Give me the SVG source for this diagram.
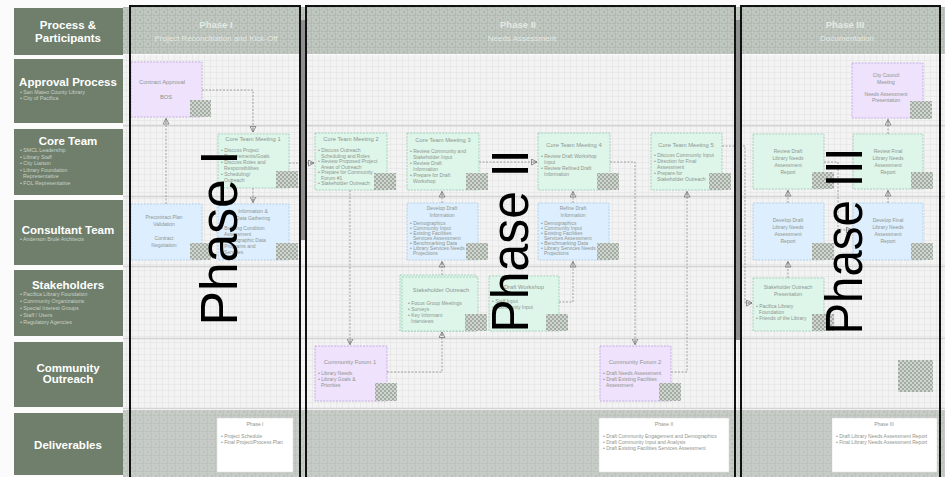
<svg xmlns="http://www.w3.org/2000/svg" width="945" height="477" viewBox="0 0 945 477">
<style>
.lbl{fill:#6f7f6c}
.lt{font:bold 11.5px "Liberation Sans",sans-serif;fill:#fff;text-anchor:middle}
.lb{font:5.3px "Liberation Sans",sans-serif;fill:#c9d1c7}
.ph{font:bold 9.5px "Liberation Sans",sans-serif;fill:#e4e9e4;text-anchor:middle}
.phs{font:8px "Liberation Sans",sans-serif;fill:#e4e9e4;text-anchor:middle}
.g{fill:#def5ea;stroke:#96c8b0;stroke-width:0.8;stroke-dasharray:2 1.2}
.b{fill:#ddefff;stroke:#a2c8e6;stroke-width:0.8;stroke-dasharray:2 1.2}
.p{fill:#efe2fd;stroke:#bb9fe0;stroke-width:0.8;stroke-dasharray:2 1.2}
.w{fill:#ffffff;stroke:#d8d8d8;stroke-width:0.5}
.nt{font:5px "Liberation Sans",sans-serif;fill:#8d958f}
.nc{font:5px "Liberation Sans",sans-serif;fill:#8d958f;text-anchor:middle}
.ntt{font:5.8px "Liberation Sans",sans-serif;fill:#8d958f;text-anchor:middle}
.ico{fill:url(#chk)}
.conn{fill:none;stroke:#8a8a8a;stroke-width:0.8;stroke-dasharray:2 1.5;marker-end:url(#arr)}
.big{font:51px "Liberation Sans",sans-serif;fill:#000;text-anchor:middle}
.frame{fill:none;stroke:#111;stroke-width:2}
</style>
<defs>
<pattern id="grid" width="6" height="6" patternUnits="userSpaceOnUse"><rect width="6" height="6" fill="#f3f3f3"/><path d="M0 0.5H6M0.5 0V6" stroke="#e3e3e3" stroke-width="0.6"/></pattern>
<pattern id="hdr" width="8" height="8" patternUnits="userSpaceOnUse"><rect width="8" height="8" fill="#b2bab2"/><circle cx="4" cy="4" r="2.4" fill="none" stroke="#d2d8d2" stroke-width="0.8"/><path d="M0 0.5H8M0.5 0V8" stroke="#c8cec8" stroke-width="0.6"/></pattern>
<pattern id="hdr2" width="8" height="8" patternUnits="userSpaceOnUse"><rect width="8" height="8" fill="#bcc2bc"/><circle cx="4" cy="4" r="2.4" fill="none" stroke="#d6dad6" stroke-width="0.8"/><path d="M0 0.5H8M0.5 0V8" stroke="#ced2ce" stroke-width="0.6"/></pattern>
<pattern id="chk" width="4" height="4" patternUnits="userSpaceOnUse"><rect width="4" height="4" fill="#a3aca3"/><rect width="2" height="2" fill="#d0d5d0"/><rect x="2" y="2" width="2" height="2" fill="#d0d5d0"/></pattern>
<marker id="arr" markerWidth="7" markerHeight="7" refX="6" refY="3.5" orient="auto" markerUnits="userSpaceOnUse"><path d="M0.5,0.5 L6,3.5 L0.5,6.5 Z M2,3.5 H6" fill="none" stroke="#777" stroke-width="0.8"/></marker>
</defs>

<rect width="945" height="477" fill="#fbfbfb"/>

<g id="lanes">
<rect x="123" y="7" width="822" height="47" fill="url(#hdr)"/>
<rect x="123" y="55" width="822" height="70" fill="url(#grid)"/>
<rect x="123" y="126" width="822" height="70" fill="url(#grid)"/>
<rect x="123" y="197" width="822" height="69" fill="url(#grid)"/>
<rect x="123" y="267" width="822" height="71" fill="url(#grid)"/>
<rect x="123" y="339" width="822" height="69" fill="url(#grid)"/>
<rect x="123" y="410" width="822" height="67" fill="url(#hdr2)"/>
<path d="M123 125.5H945M123 196.5H945M123 266.5H945M123 338.5H945M123 408.5H945" stroke="#d3d3d3" stroke-width="1.5"/>
</g>

<g id="labels">
<rect class="lbl" x="14" y="8" width="109" height="47"/>
<text class="lt" x="68" y="29">Process &amp;</text>
<text class="lt" x="68" y="42">Participants</text>
<rect class="lbl" x="14" y="59" width="109" height="64"/>
<text class="lt" x="68" y="86">Approval Process</text>
<text class="lb" x="20" y="94">• San Mateo County Library</text>
<text class="lb" x="20" y="100">• City of Pacifica</text>
<rect class="lbl" x="14" y="129" width="109" height="66"/>
<text class="lt" x="68" y="145">Core Team</text>
<text class="lb" x="20" y="152">• SMCL Leadership</text>
<text class="lb" x="20" y="158.5">• Library Staff</text>
<text class="lb" x="20" y="165">• City Liaison</text>
<text class="lb" x="20" y="171.5">• Library Foundation</text>
<text class="lb" x="23" y="178">Representative</text>
<text class="lb" x="20" y="184.5">• FOL Representative</text>
<rect class="lbl" x="14" y="200" width="109" height="65"/>
<text class="lt" x="68" y="234">Consultant Team</text>
<text class="lb" x="20" y="241">• Anderson Brulé Architects</text>
<rect class="lbl" x="14" y="270" width="109" height="66"/>
<text class="lt" x="68" y="289">Stakeholders</text>
<text class="lb" x="20" y="296">• Pacifica Library Foundation</text>
<text class="lb" x="20" y="303">• Community Organizations</text>
<text class="lb" x="20" y="310">• Special Interest Groups</text>
<text class="lb" x="20" y="317">• Staff / Users</text>
<text class="lb" x="20" y="324">• Regulatory Agencies</text>
<rect class="lbl" x="14" y="342" width="109" height="65"/>
<text class="lt" x="68" y="372">Community</text>
<text class="lt" x="68" y="383">Outreach</text>
<rect class="lbl" x="14" y="413" width="109" height="62"/>
<text class="lt" x="68" y="449">Deliverables</text>
</g>

<g id="phase-headers">
<text class="ph" x="216" y="28">Phase I</text>
<text class="phs" x="216" y="41">Project Reconciliation and Kick-Off</text>
<text class="ph" x="518" y="28">Phase II</text>
<text class="phs" x="522" y="41">Needs Assessment</text>
<text class="ph" x="845" y="28">Phase III</text>
<text class="phs" x="847" y="41">Documentation</text>
</g>

<g id="connectors">
<path class="conn" d="M202 90H253V132"/>
<path class="conn" d="M166 204V118.5"/>
<path class="conn" d="M253 188V202.5"/>
<path class="conn" d="M289 163H314"/>
<path class="conn" d="M350 190V344.5"/>
<path class="conn" d="M387 372H442V332"/>
<path class="conn" d="M442 275V261.5"/>
<path class="conn" d="M442 203V191.5"/>
<path class="conn" d="M479 162H537"/>
<path class="conn" d="M559 302H573V261.5"/>
<path class="conn" d="M573 203V191.5"/>
<path class="conn" d="M610 162H635V344.5"/>
<path class="conn" d="M671 372H687V191.5"/>
<path class="conn" d="M722 146H745V303H752"/>
<path class="conn" d="M788 278V261.5"/>
<path class="conn" d="M788 203V190.5"/>
<path class="conn" d="M824 162H838V230H852"/>
<path class="conn" d="M888 203V190.5"/>
<path class="conn" d="M888 134V119.5"/>
</g>

<g id="n-contract-approval">
<rect class="p" x="131" y="62" width="71" height="55"/>
<text class="ntt" x="162" y="84">Contract Approval</text>
<text class="ntt" x="166" y="99">BOS</text>
<rect class="ico" x="190" y="100" width="21" height="17"/>
</g>
<g id="n-precontract">
<rect class="b" x="131" y="204" width="71" height="56"/>
<text class="nc" x="164" y="219">Precontract Plan</text>
<text class="nc" x="164" y="226">Validation</text>
<text class="nc" x="164" y="240">Contract</text>
<text class="nc" x="164" y="247">Negotiation</text>
<rect class="ico" x="190" y="243" width="21" height="17"/>
</g>
<g id="n-ctm1">
<rect class="g" x="218" y="134" width="71" height="54"/>
<text class="ntt" x="253" y="141">Core Team Meeting 1</text>
<text class="nt" x="221" y="152">• Discuss Project</text>
<text class="nt" x="224" y="158">Requirements/Goals</text>
<text class="nt" x="221" y="164">• Discuss Roles and</text>
<text class="nt" x="224" y="170">Responsibilities</text>
<text class="nt" x="221" y="176">• Scheduling/</text>
<text class="nt" x="224" y="182">Outreach</text>
<rect class="ico" x="276" y="171" width="22" height="17"/>
</g>
<g id="n-info-gathering">
<rect class="b" x="218" y="204" width="71" height="56"/>
<text class="nc" x="253" y="213">Information &amp;</text>
<text class="nc" x="253" y="220">Data Gathering</text>
<text class="nt" x="221" y="230">• Building Condition</text>
<text class="nt" x="224" y="236">Assessment</text>
<text class="nt" x="221" y="242">• Demographic Data</text>
<text class="nt" x="221" y="248">• Programs and</text>
<text class="nt" x="224" y="254">Services</text>
<rect class="ico" x="276" y="243" width="22" height="17"/>
</g>

<g id="n-ctm2">
<rect class="g" x="315" y="133" width="72" height="57"/>
<text class="ntt" x="351" y="141">Core Team Meeting 2</text>
<text class="nt" x="318" y="152">• Discuss Outreach</text>
<text class="nt" x="321" y="157.5">Scheduling and Roles</text>
<text class="nt" x="318" y="163">• Review Proposed Project</text>
<text class="nt" x="321" y="168.5">Areas of Outreach</text>
<text class="nt" x="318" y="174">• Prepare for Community</text>
<text class="nt" x="321" y="179.5">Forum #1</text>
<text class="nt" x="318" y="185">• Stakeholder Outreach</text>
<rect class="ico" x="374" y="173" width="22" height="17"/>
</g>
<g id="n-ctm3">
<rect class="g" x="407" y="133" width="72" height="57"/>
<text class="ntt" x="443" y="142">Core Team Meeting 3</text>
<text class="nt" x="410" y="153">• Review Community and</text>
<text class="nt" x="413" y="159">Stakeholder Input</text>
<text class="nt" x="410" y="165">• Review Draft</text>
<text class="nt" x="413" y="171">Information</text>
<text class="nt" x="410" y="177">• Prepare for Draft</text>
<text class="nt" x="413" y="183">Workshop</text>
<rect class="ico" x="466" y="173" width="22" height="17"/>
</g>
<g id="n-ctm4">
<rect class="g" x="538" y="133" width="72" height="57"/>
<text class="ntt" x="574" y="147">Core Team Meeting 4</text>
<text class="nt" x="541" y="158">• Review Draft Workshop</text>
<text class="nt" x="544" y="164">Input</text>
<text class="nt" x="541" y="170">• Review Refined Draft</text>
<text class="nt" x="544" y="176">Information</text>
<rect class="ico" x="597" y="173" width="22" height="17"/>
</g>
<g id="n-ctm5">
<rect class="g" x="651" y="133" width="71" height="57"/>
<text class="ntt" x="686" y="147">Core Team Meeting 5</text>
<text class="nt" x="654" y="157">• Discuss Community Input</text>
<text class="nt" x="654" y="163">• Direction for Final</text>
<text class="nt" x="657" y="169">Assessment</text>
<text class="nt" x="654" y="175">• Prepare for</text>
<text class="nt" x="657" y="181">Stakeholder Outreach</text>
<rect class="ico" x="709" y="173" width="22" height="17"/>
</g>
<g id="n-develop-draft-info">
<rect class="b" x="407" y="203" width="71" height="57"/>
<text class="nc" x="442" y="210">Develop Draft</text>
<text class="nc" x="442" y="217">Information</text>
<text class="nt" x="410" y="225">• Demographics</text>
<text class="nt" x="410" y="230">• Community Input</text>
<text class="nt" x="410" y="235">• Existing Facilities</text>
<text class="nt" x="413" y="240">Services Assessment</text>
<text class="nt" x="410" y="245">• Benchmarking Data</text>
<text class="nt" x="410" y="250">• Library Services Needs</text>
<text class="nt" x="413" y="255">Projections</text>
<rect class="ico" x="466" y="243" width="22" height="17"/>
</g>
<g id="n-refine-draft-info">
<rect class="b" x="538" y="203" width="71" height="57"/>
<text class="nc" x="573" y="210">Refine Draft</text>
<text class="nc" x="573" y="217">Information</text>
<text class="nt" x="541" y="225">• Demographics</text>
<text class="nt" x="541" y="230">• Community Input</text>
<text class="nt" x="541" y="235">• Existing Facilities</text>
<text class="nt" x="544" y="240">Services Assessment</text>
<text class="nt" x="541" y="245">• Benchmarking Data</text>
<text class="nt" x="541" y="250">• Library Services Needs</text>
<text class="nt" x="544" y="255">Projections</text>
<rect class="ico" x="597" y="243" width="22" height="17"/>
</g>
<g id="n-stakeholder-outreach">
<rect class="g" x="400" y="275" width="76" height="56"/>
<rect class="g" x="402" y="277" width="76" height="54"/>
<text class="ntt" x="441" y="292">Stakeholder Outreach</text>
<text class="nt" x="408" y="305">• Focus Group Meetings</text>
<text class="nt" x="408" y="311">• Surveys</text>
<text class="nt" x="408" y="317">• Key Informant</text>
<text class="nt" x="411" y="323">Interviews</text>
<rect class="ico" x="465" y="314" width="22" height="17"/>
</g>
<g id="n-draft-workshop">
<rect class="g" x="489" y="276" width="70" height="55"/>
<text class="ntt" x="524" y="289">Draft Workshop</text>
<text class="nt" x="492" y="303">• Staff Input</text>
<text class="nt" x="492" y="309">• Community Input</text>
<rect class="ico" x="546" y="314" width="22" height="17"/>
</g>
<g id="n-forum1">
<rect class="p" x="315" y="346" width="72" height="55"/>
<text class="ntt" x="350" y="364">Community Forum 1</text>
<text class="nt" x="318" y="375">• Library Needs</text>
<text class="nt" x="318" y="381">• Library Goals &amp;</text>
<text class="nt" x="321" y="387">Priorities</text>
<rect class="ico" x="375" y="383" width="22" height="18"/>
</g>
<g id="n-forum2">
<rect class="p" x="600" y="346" width="71" height="55"/>
<text class="ntt" x="635" y="364">Community Forum 2</text>
<text class="nt" x="603" y="375">• Draft Needs Assessment</text>
<text class="nt" x="603" y="381">• Draft Existing Facilities</text>
<text class="nt" x="606" y="387">Assessment</text>
<rect class="ico" x="659" y="383" width="22" height="18"/>
</g>

<g id="n-city-council">
<rect class="p" x="852" y="63" width="71" height="55"/>
<text class="nc" x="886" y="77">City Council</text>
<text class="nc" x="886" y="84">Meeting</text>
<text class="nc" x="886" y="96">Needs Assessment</text>
<text class="nc" x="886" y="102">Presentation</text>
<rect class="ico" x="910" y="101" width="22" height="18"/>
</g>
<g id="n-review-draft-report">
<rect class="g" x="753" y="134" width="71" height="55"/>
<text class="nc" x="788" y="153">Review Draft</text>
<text class="nc" x="788" y="160">Library Needs</text>
<text class="nc" x="788" y="167">Assessment</text>
<text class="nc" x="788" y="174">Report</text>
<rect class="ico" x="812" y="172" width="22" height="17"/>
</g>
<g id="n-review-final-report">
<rect class="g" x="853" y="134" width="70" height="55"/>
<text class="nc" x="888" y="153">Review Final</text>
<text class="nc" x="888" y="160">Library Needs</text>
<text class="nc" x="888" y="167">Assessment</text>
<text class="nc" x="888" y="174">Report</text>
<rect class="ico" x="911" y="172" width="22" height="17"/>
</g>
<g id="n-develop-draft-report">
<rect class="b" x="753" y="203" width="71" height="57"/>
<text class="nc" x="788" y="222">Develop Draft</text>
<text class="nc" x="788" y="229">Library Needs</text>
<text class="nc" x="788" y="236">Assessment</text>
<text class="nc" x="788" y="243">Report</text>
<rect class="ico" x="812" y="243" width="22" height="17"/>
</g>
<g id="n-develop-final-report">
<rect class="b" x="853" y="203" width="70" height="57"/>
<text class="nc" x="888" y="222">Develop Final</text>
<text class="nc" x="888" y="229">Library Needs</text>
<text class="nc" x="888" y="236">Assessment</text>
<text class="nc" x="888" y="243">Report</text>
<rect class="ico" x="911" y="243" width="22" height="17"/>
</g>
<g id="n-stakeholder-presentation">
<rect class="g" x="753" y="278" width="71" height="53"/>
<text class="nc" x="788" y="289">Stakeholder Outreach</text>
<text class="nc" x="788" y="296">Presentation</text>
<text class="nt" x="756" y="308">• Pacifica Library</text>
<text class="nt" x="759" y="314">Foundation</text>
<text class="nt" x="756" y="320">• Friends of the Library</text>
<rect class="ico" x="812" y="314" width="22" height="17"/>
</g>
<g id="logo">
<rect class="ico" x="898" y="360" width="35" height="32"/>
</g>

<g id="deliverables">
<rect class="w" x="217" y="418" width="76" height="54"/>
<text class="nc" x="255" y="426">Phase I</text>
<text class="nt" x="221" y="438">• Project Schedule</text>
<text class="nt" x="221" y="444">• Final Project/Process Plan</text>
<rect class="w" x="599" y="418" width="130" height="54"/>
<text class="nc" x="664" y="426">Phase II</text>
<text class="nt" x="603" y="438">• Draft Community Engagement and Demographics</text>
<text class="nt" x="603" y="444">• Draft Community Input and Analysis</text>
<text class="nt" x="603" y="450">• Draft Existing Facilities Services Assessment</text>
<rect class="w" x="832" y="418" width="105" height="54"/>
<text class="nc" x="884" y="426">Phase III</text>
<text class="nt" x="836" y="438">• Draft Library Needs Assessment Report</text>
<text class="nt" x="836" y="444">• Final Library Needs Assessment Report</text>
</g>

<g id="phase-frames">
<rect x="301" y="20" width="4" height="220" fill="#8f8f8f"/>
<rect x="736" y="20" width="4" height="320" fill="#8f8f8f"/>
<rect class="frame" x="130" y="6" width="170" height="480"/>
<rect class="frame" x="306" y="6" width="429" height="480"/>
<rect class="frame" x="741" y="6" width="199" height="480"/>
</g>

<g id="phase-labels">
<text class="big" transform="translate(237,238) rotate(-90)" textLength="175" lengthAdjust="spacingAndGlyphs">Phase I</text>
<text class="big" transform="translate(528,241) rotate(-90)" textLength="183" lengthAdjust="spacingAndGlyphs">Phase II</text>
<text class="big" transform="translate(862,241) rotate(-90)" textLength="187" lengthAdjust="spacingAndGlyphs">Phase III</text>
</g>
</svg>
